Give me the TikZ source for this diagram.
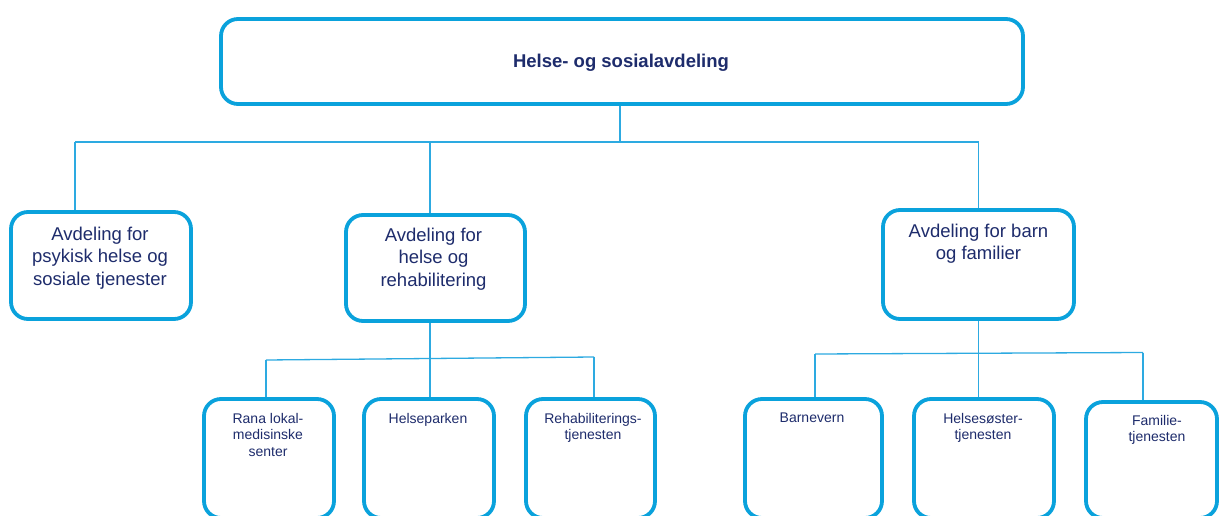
\documentclass[tikz,border=0pt]{standalone}
\usepackage{fontspec}
\setmainfont{Liberation Sans}
\definecolor{boxblue}{HTML}{0AA2DC}
\definecolor{linkblue}{HTML}{2DAAE1}
\definecolor{navy}{HTML}{1E2C6C}
\begin{document}
\begin{tikzpicture}[x=1pt,y=-1pt,
  box/.style={draw=boxblue, line width=3.8pt, rounded corners=17pt, fill=white, inner sep=0pt},
  conn/.style={draw=linkblue, line width=1.3pt},
  bigtxt/.style={text=navy, font=\fontsize{18.5}{22.5}\selectfont, align=center, inner sep=0pt, anchor=north},
  smalltxt/.style={text=navy, font=\fontsize{14}{16.5}\selectfont, align=center, inner sep=0pt, anchor=north},
  toptxt/.style={text=navy, font=\bfseries\fontsize{18.5}{22}\selectfont, inner sep=0pt, anchor=base}]
\useasboundingbox (0,0) rectangle (1219,516);
\clip (0,0) rectangle (1219,516);
\fill[white] (0,0) rectangle (1219,516);

% boxes
\node[box, minimum width=802pt, minimum height=85pt] (top) at (622,61.5) {};
\node[box, minimum width=180pt, minimum height=107pt] (L1) at (101,265.5) {};
\node[box, minimum width=179pt, minimum height=106pt] (M) at (435.5,268) {};
\node[box, minimum width=191pt, minimum height=109pt] (R) at (978.5,264.5) {};
\node[box, minimum width=130pt, minimum height=119pt] (B1) at (269,458.5) {};
\node[box, minimum width=130pt, minimum height=119pt] (B2) at (429,458.5) {};
\node[box, minimum width=129pt, minimum height=119pt] (B3) at (590.5,458.5) {};
\node[box, minimum width=137pt, minimum height=119pt] (B4) at (813.5,458.5) {};
\node[box, minimum width=140pt, minimum height=119pt] (B5) at (984,458.5) {};
\node[box, minimum width=131pt, minimum height=116pt] (B6) at (1151.5,460) {};

% texts
\node[toptxt] (tTop) at (621,68) {Helse- og sosialavdeling};
\node[bigtxt] (tL1) at (100,226.5) {Avdeling for\\psykisk helse og\\sosiale tjenester};
\node[bigtxt] (tM) at (433.5,227.5) {Avdeling for\\helse og\\rehabilitering};
\node[bigtxt] (tR) at (978.5,223.5) {Avdeling for barn\\og familier};
\node[smalltxt] (tB1) at (268,412.8) {Rana lokal-\\medisinske\\senter};
\node[smalltxt] (tB2) at (428,412.8) {Helseparken};
\node[smalltxt] (tB3) at (593,412.8) {Rehabiliterings-\\tjenesten};
\node[smalltxt] (tB4) at (812,412.8) {Barnevern};
\node[smalltxt] (tB5) at (983,412.8) {Helsesøster-\\tjenesten};
\node[smalltxt] (tB6) at (1157,414.8) {Familie-\\tjenesten};

% first level connectors
\coordinate (tb) at (620,142);
\coordinate (jL1) at (75,142);
\coordinate (jM) at (430,142);
\coordinate (jR) at (978.5,142);
\draw[conn] (tb |- top.south) -- (tb);
\draw[conn] (jL1) -- (jR);
\draw[conn] (jL1) -- (jL1 |- L1.north);
\draw[conn] (jM) -- (jM |- M.north);
\draw[conn] (jR) -- (R.north);

% second level, left group
\coordinate (b1) at (266,360);
\coordinate (b3) at (594,357);
\coordinate (jMd) at (430,358.5);
\draw[conn] (b1) -- (b3);
\draw[conn] (b1) -- (b1 |- B1.north);
\draw[conn] (jMd |- M.south) -- (jMd |- B2.north);
\draw[conn] (b3) -- (b3 |- B3.north);

% second level, right group
\coordinate (c1) at (815,354);
\coordinate (c3) at (1143,352.5);
\draw[conn] (c1) -- (c3);
\draw[conn] (c1) -- (c1 |- B4.north);
\draw[conn] (R.south) -- (R.south |- B5.north);
\draw[conn] (c3) -- (c3 |- B6.north);
\end{tikzpicture}
\end{document}
